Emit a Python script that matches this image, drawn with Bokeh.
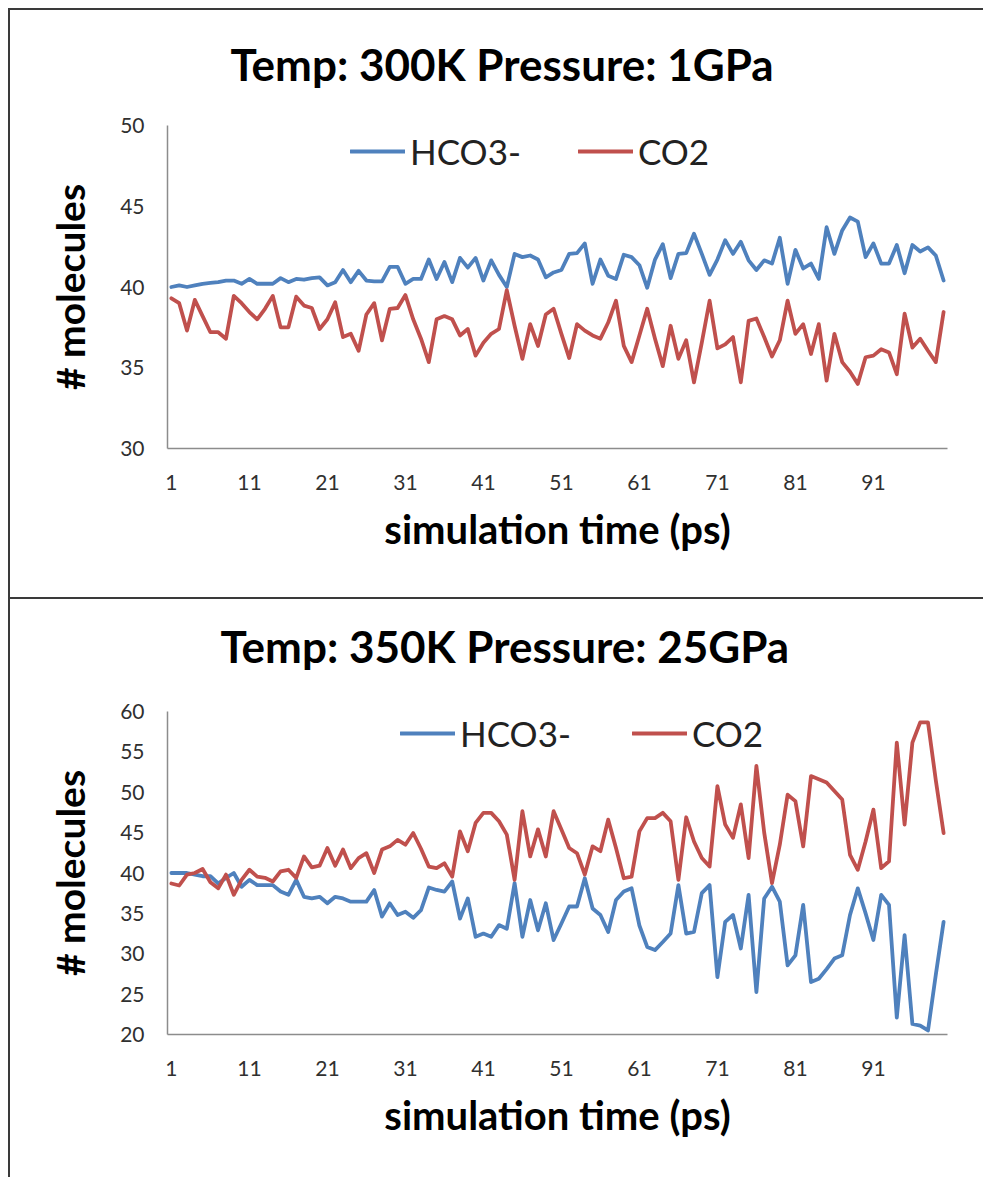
from bokeh.plotting import figure
from bokeh.layouts import column
from bokeh.models import FixedTicker, Range1d, Legend, LegendItem, ColumnDataSource, Title
from bokeh.embed import file_html
from bokeh.resources import INLINE

# ---------------- data ----------------
time_ps = list(range(1, 101))
x_tick_values = [1, 11, 21, 31, 41, 51, 61, 71, 81, 91]

title_1 = "Temp: 300K Pressure: 1GPa"
y_ticks_1 = [30, 35, 40, 45, 50]
hco3_1 = [40.0, 40.1, 40.0, 40.1, 40.2, 40.25, 40.3, 40.4, 40.4, 40.2,
          40.5, 40.2, 40.2, 40.2, 40.55, 40.3, 40.5, 40.45, 40.55, 40.6,
          40.1, 40.3, 41.05, 40.3, 41.0, 40.4, 40.35, 40.35, 41.25, 41.25,
          40.2, 40.5, 40.5, 41.7, 40.5, 41.55, 40.3, 41.8, 41.2, 41.8,
          40.4, 41.65, 40.75, 40.0, 42.05, 41.85, 41.95, 41.7, 40.6, 40.9,
          41.05, 42.05, 42.1, 42.7, 40.2, 41.7, 40.7, 40.5, 42.0, 41.85,
          41.35, 39.95, 41.7, 42.65, 40.55, 42.05, 42.1, 43.3, 42.05, 40.75,
          41.7, 42.9, 42.05, 42.8, 41.65, 41.05, 41.65, 41.45, 43.05, 40.2,
          42.3, 41.15, 41.45, 40.5, 43.7, 42.05, 43.5, 44.3, 44.05, 41.85,
          42.7, 41.45, 41.45, 42.6, 40.85, 42.6, 42.2, 42.45, 41.95, 40.4]
co2_1 = [39.3, 39.0, 37.3, 39.2, 38.2, 37.2, 37.2, 36.8, 39.45, 39.0,
         38.45, 38.0, 38.65, 39.45, 37.5, 37.5, 39.4, 38.85, 38.7, 37.4,
         38.0, 39.05, 36.9, 37.1, 36.05, 38.3, 39.0, 36.7, 38.65, 38.7,
         39.5, 38.0, 36.8, 35.35, 38.0, 38.2, 38.0, 37.0, 37.4, 35.75,
         36.55, 37.1, 37.4, 39.8, 37.6, 35.55, 37.7, 36.35, 38.3, 38.65,
         37.1, 35.6, 37.7, 37.3, 37.0, 36.8, 37.8, 39.15, 36.35, 35.35,
         37.0, 38.65, 36.8, 35.1, 37.6, 35.55, 36.7, 34.1, 36.55, 39.15,
         36.2, 36.45, 36.9, 34.1, 37.9, 38.05, 36.9, 35.7, 36.7, 39.15,
         37.1, 37.7, 35.85, 37.7, 34.2, 37.1, 35.35, 34.75, 34.0, 35.65,
         35.75, 36.15, 35.95, 34.6, 38.35, 36.25, 36.8, 36.05, 35.35, 38.45]

title_2 = "Temp: 350K Pressure: 25GPa"
y_ticks_2 = [20, 25, 30, 35, 40, 45, 50, 55, 60]
hco3_2 = [40.0, 40.0, 40.0, 39.8, 39.6, 39.6, 38.7, 39.4, 40.0, 38.3,
          39.15, 38.5, 38.5, 38.5, 37.7, 37.3, 39.15, 37.05, 36.85, 37.05,
          36.25, 37.05, 36.85, 36.45, 36.45, 36.45, 37.9, 34.6, 36.25, 34.8,
          35.2, 34.45, 35.4, 38.2, 37.9, 37.7, 38.95, 34.35, 36.85, 32.1,
          32.5, 32.1, 33.55, 33.1, 38.75, 32.1, 36.65, 32.9, 36.25, 31.7,
          33.75, 35.85, 35.85, 39.35, 35.6, 34.8, 32.7, 36.65, 37.7, 38.1,
          33.5, 30.85, 30.45, 31.45, 32.5, 38.5, 32.5, 32.7, 37.5, 38.5,
          27.1, 33.95, 34.8, 30.65, 37.3, 25.25, 36.85, 38.3, 36.45, 28.55,
          29.8, 36.05, 26.5, 26.9, 28.1, 29.4, 29.8, 34.8, 38.1, 35.0,
          31.7, 37.3, 36.05, 22.1, 32.3, 21.3, 21.1, 20.5, 27.4, 33.95]
co2_2 = [38.7, 38.45, 39.8, 40.0, 40.5, 38.85, 38.1, 39.8, 37.3, 39.15,
         40.4, 39.55, 39.4, 38.95, 40.2, 40.4, 39.4, 42.05, 40.7, 40.9,
         43.1, 40.9, 42.9, 40.6, 41.85, 42.45, 40.0, 42.9, 43.3, 44.1,
         43.5, 44.95, 43.0, 40.8, 40.6, 41.2, 39.55, 45.15, 42.7, 46.2,
         47.45, 47.45, 46.4, 44.75, 39.15, 47.65, 42.05, 45.4, 42.05, 47.65,
         45.4, 43.1, 42.45, 39.8, 43.3, 42.7, 46.6, 43.1, 39.35, 39.55,
         45.15, 46.8, 46.8, 47.45, 46.4, 39.15, 46.9, 43.9, 41.85, 40.8,
         50.75, 46.0, 44.35, 48.5, 41.85, 53.25, 45.0, 38.75, 43.5, 49.7,
         48.9, 43.3, 52.0, 51.6, 51.2, 50.15, 49.1, 42.25, 40.4, 43.9,
         47.85, 40.6, 41.45, 56.15, 46.0, 56.15, 58.65, 58.65, 51.5, 44.95]

series_names = ["HCO3-", "CO2"]
series_colors = ["#4F81BD", "#C0504D"]

FONT = "Lato"
BORDER = "2px solid #3a3a3a"


def make_panel(title, yticks, hco3, co2, height, min_top, min_bottom,
               title_offset, title_gap, legend_loc, legend_spacing):
    p = figure(width=973, height=height, output_backend="svg", toolbar_location=None,
               x_range=Range1d(0.5, 100.5), y_range=Range1d(yticks[0], yticks[-1]),
               min_border_left=157, min_border_right=38,
               min_border_top=min_top, min_border_bottom=min_bottom,
               background_fill_color="white", border_fill_color="white",
               outline_line_color=None,
               styles={"border-left": BORDER, "border-top": BORDER,
                       "box-sizing": "content-box"})
    p.title.text = title
    p.title.text_font = FONT
    p.title.text_font_size = "44px"
    p.title.text_font_style = "bold"
    p.title.text_color = "black"
    p.title.align = "left"
    p.title.offset = title_offset
    p.title.standoff = 10
    # invisible spacer between the title and the plot frame
    p.add_layout(Title(text=" ", text_font_size="1px", standoff=title_gap), "above")

    p.grid.visible = False

    for ax in (p.xaxis[0], p.yaxis[0]):
        ax.axis_line_color = "#8c8c8c"
        ax.axis_line_width = 1.5
        ax.major_tick_line_color = None
        ax.minor_tick_line_color = None
        ax.major_tick_out = 0
        ax.major_tick_in = 0
        ax.major_label_text_font = FONT
        ax.major_label_text_font_size = "21px"
        ax.major_label_text_color = "#303030"
        ax.axis_label_text_font = FONT
        ax.axis_label_text_font_style = "bold"
        ax.axis_label_text_color = "black"

    p.xaxis.ticker = FixedTicker(ticks=x_tick_values)
    p.xaxis.axis_label = "simulation time (ps)"
    p.xaxis.axis_label_text_font_size = "40px"
    p.xaxis.major_label_standoff = 26
    p.xaxis.axis_label_standoff = 12

    p.yaxis.ticker = FixedTicker(ticks=yticks)
    p.yaxis.axis_label = "# molecules"
    p.yaxis.axis_label_text_font_size = "39px"
    p.yaxis.major_label_standoff = 23
    p.yaxis.axis_label_standoff = 24

    src = ColumnDataSource(dict(t=time_ps, a=hco3, b=co2))
    r1 = p.line("t", "a", source=src, line_color=series_colors[0], line_width=3.8,
                line_join="round", line_cap="round")
    r2 = p.line("t", "b", source=src, line_color=series_colors[1], line_width=3.8,
                line_join="round", line_cap="round")

    legend = Legend(items=[LegendItem(label=series_names[0], renderers=[r1]),
                           LegendItem(label=series_names[1], renderers=[r2])],
                    orientation="horizontal", location=legend_loc,
                    glyph_width=55, glyph_height=20, label_standoff=5,
                    spacing=legend_spacing,
                    padding=0, margin=0, border_line_color=None,
                    background_fill_alpha=0,
                    label_text_font=FONT, label_text_font_size="35px",
                    label_text_color="#222222")
    p.add_layout(legend)
    return p


p1 = make_panel(title_1, y_ticks_1, hco3_1, co2_1, 587, 115, 151,
                63, 28, (183, 276), 57)
p2 = make_panel(title_2, y_ticks_2, hco3_2, co2_2, 578, 112, 145,
                53, 32, (233, 280), 61)

layout = column(p1, p2, spacing=0, styles={"margin-left": "8px", "margin-top": "8px"})
open("out.html", "w").write(file_html(layout, INLINE))
